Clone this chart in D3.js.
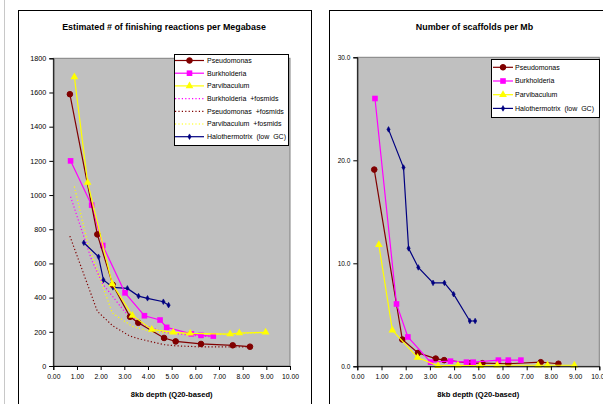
<!DOCTYPE html>
<html><head><meta charset="utf-8">
<script src="https://cdn.jsdelivr.net/npm/d3@7"></script>
<style>body{margin:0;background:#fff}svg{display:block;font-family:Arial,"Liberation Sans",sans-serif}</style>
</head><body><svg id="c" width="603" height="404"></svg>
<script>
// ---- data ----
const pseudoX = [0.70,1.86,2.51,3.24,3.59,4.68,5.17,6.24,7.58,8.31];
const pseudoReact = [1590,770,475,288,253,164,144,129,121,113];
const pseudoFosReact = [760,320,235,175,160,125,118,112,112,112];
const pseudoScaf = [19.1,2.6,1.3,0.75,0.6,0.3,0.3,0.25,0.4,0.25];

const burkX = [0.73,1.62,2.09,3.03,3.85,4.51,4.79,5.83,6.24,6.76];
const burkReact = [1200,941,705,428,294,269,226,188,179,175];
const burkFosReact = [990,620,480,315,240,205,195,180,175,170];
const burkScaf = [26.0,6.05,2.85,0.4,0.5,0.4,0.4,0.6,0.6,0.6];

const parvX = [0.89,1.45,2.49,3.34,4.16,5.07,5.78,7.47,7.86,8.97];
const parvReact = [1691,1074,480,296,214,197,191,187,193,197];
const parvFosReact = [1050,720,310,232,200,190,185,185,190,195];
const parvScaf = [11.8,3.5,0.85,0.05,0.1,0.05,0.1,0.1,0.1,0.1];

const haloX = [1.29,1.91,2.12,2.52,3.13,3.60,3.98,4.65,4.87];
const haloReact = [721,639,503,460,454,409,396,376,356];
const haloScaf = [23.0,19.3,11.45,9.6,8.1,8.1,7.0,4.4,4.4];

const xTicks = [0,1,2,3,4,5,6,7,8,9,10];
const leftYTicks = [0,200,400,600,800,1000,1200,1400,1600,1800];
const rightYTicks = [0,10,20,30];

const leftTitle = "Estimated # of finishing reactions per Megabase";
const rightTitle = "Number of scaffolds per Mb";
const xLabel = "8kb depth (Q20-based)";

const C = {pseudo:"#800000", burk:"#ff00ff", parv:"#ffff00", halo:"#000080"};

const svg = d3.select("#c");
svg.append("line").attr("x1",4.5).attr("x2",4.5).attr("y1",0).attr("y2",404).attr("stroke","#c8c8c8");

// panels
svg.append("rect").attr("x",18.5).attr("y",10.5).attr("width",293).attr("height",420).attr("fill","#fff").attr("stroke","#000");
svg.append("rect").attr("x",329.5).attr("y",10.5).attr("width",300).attr("height",420).attr("fill","#fff").attr("stroke","#000");

function marker(g, type, x, y, color){
  if(type==="circle") g.append("circle").attr("cx",x).attr("cy",y).attr("r",2.8).attr("fill",color).attr("stroke",color);
  else if(type==="square") g.append("rect").attr("x",x-2.8).attr("y",y-2.8).attr("width",5.6).attr("height",5.6).attr("fill",color);
  else if(type==="tri") g.append("path").attr("d",d3.symbol(d3.symbolTriangle,26)()).attr("transform",`translate(${x},${y})`).attr("fill",color);
  else if(type==="diamond") g.append("path").attr("d",d3.symbol(d3.symbolDiamond,9)()).attr("transform",`translate(${x},${y})`).attr("fill",color).attr("stroke",color).attr("stroke-width",0.6);
}

function chart(opt){
  const g = svg.append("g");
  const x = d3.scaleLinear().domain([0,10]).range([opt.x0,opt.x1]);
  const y = d3.scaleLinear().domain(opt.ydom).range([opt.y1,opt.y0]);
  g.append("rect").attr("x",opt.x0).attr("y",opt.y0).attr("width",opt.x1-opt.x0).attr("height",opt.y1-opt.y0)
    .attr("fill","#c0c0c0").attr("stroke","#808080");
  // title
  g.append("text").attr("x",opt.tx).attr("y",30).attr("text-anchor","middle").attr("font-size",8.9).attr("font-weight","bold").text(opt.title);
  // series
  const sg = g.append("g");
  opt.series.forEach(s=>{
    const pts = s.x.map((v,i)=>[x(v),y(s.v[i])]);
    sg.append("path").attr("d",d3.line()(pts)).attr("fill","none").attr("stroke",s.c)
      .attr("stroke-width",1.2).attr("stroke-dasharray",s.dash?"1.2,2.2":null);
    if(s.m) pts.forEach(p=>marker(sg,s.m,p[0],p[1],s.c));
  });
  // axes
  const ya = d3.axisLeft(y).tickValues(opt.yticks).tickSize(4).tickFormat(opt.yfmt);
  const yg = g.append("g").attr("transform",`translate(${opt.x0},0)`).call(ya);
  yg.select(".domain").attr("stroke","#000");
  yg.selectAll("text").attr("font-size",opt.yfs).attr("fill","#000").attr("font-family","Arial,Liberation Sans,sans-serif");
  const xa = d3.axisBottom(x).tickValues(xTicks).tickSize(4).tickFormat(d3.format(".2f"));
  const xg = g.append("g").attr("transform",`translate(0,${opt.y1})`).call(xa);
  xg.select(".domain").attr("stroke","#000");
  xg.selectAll("text").attr("font-size",6.8).attr("fill","#000").attr("dy","0.9em").attr("font-family","Arial,Liberation Sans,sans-serif");
  g.append("text").attr("x",(opt.x0+opt.x1)/2).attr("y",397).attr("text-anchor","middle").attr("font-size",7.6).attr("font-weight","bold").text(xLabel);
  // legend
  const L = opt.legend;
  const lg = g.append("g");
  lg.append("rect").attr("x",L.x+0.5).attr("y",L.y+0.5).attr("width",L.w).attr("height",L.h).attr("fill","#fff").attr("stroke","#000");
  L.items.forEach((s,i)=>{
    const yy = L.y+L.first+i*L.step;
    lg.append("line").attr("x1",L.x+L.l0).attr("x2",L.x+L.l1).attr("y1",yy).attr("y2",yy).attr("stroke",s.c).attr("stroke-width",1.2)
      .attr("stroke-dasharray",s.dash?"1.2,2.2":null);
    if(s.m) marker(lg,s.m,L.x+(L.l0+L.l1)/2,yy,s.c);
    lg.append("text").attr("x",L.x+L.tx).attr("y",yy).attr("dy","0.35em").attr("font-size",7).attr("xml:space","preserve").text(s.name);
  });
}

const leftSeries = [
  {name:"Pseudomonas", x:pseudoX, v:pseudoReact, c:C.pseudo, m:"circle"},
  {name:"Burkholderia", x:burkX, v:burkReact, c:C.burk, m:"square"},
  {name:"Parvibaculum", x:parvX, v:parvReact, c:C.parv, m:"tri"},
  {name:"Burkholderia  +fosmids", x:burkX, v:burkFosReact, c:C.burk, dash:true},
  {name:"Pseudomonas  +fosmids", x:pseudoX, v:pseudoFosReact, c:C.pseudo, dash:true},
  {name:"Parvibaculum  +fosmids", x:parvX, v:parvFosReact, c:C.parv, dash:true},
  {name:"Halothermotrix  (low  GC)", x:haloX, v:haloReact, c:C.halo, m:"diamond"}
];
const drawOrderLeft = [leftSeries[3],leftSeries[4],leftSeries[5],leftSeries[6],leftSeries[1],leftSeries[0],leftSeries[2]];

chart({x0:53.3,x1:290,y0:58.3,y1:366,ydom:[0,1800],yticks:leftYTicks,yfmt:d3.format("d"),yfs:7.2,
  title:leftTitle, tx:164, series:drawOrderLeft,
  legend:{x:174,y:54,w:114,h:91,first:6.5,step:12.7,l0:1,l1:30,tx:33,items:leftSeries}});

const rightSeries = [
  {name:"Pseudomonas", x:pseudoX, v:pseudoScaf, c:C.pseudo, m:"circle"},
  {name:"Burkholderia", x:burkX, v:burkScaf, c:C.burk, m:"square"},
  {name:"Parvibaculum", x:parvX, v:parvScaf, c:C.parv, m:"tri"},
  {name:"Halothermotrix  (low  GC)", x:haloX, v:haloScaf, c:C.halo, m:"diamond"}
];
const drawOrderRight = [rightSeries[3],rightSeries[0],rightSeries[1],rightSeries[2]];

chart({x0:357.3,x1:599.3,y0:57.3,y1:366.3,ydom:[0,30],yticks:rightYTicks,yfmt:d3.format(".1f"),yfs:6.5,
  title:rightTitle, tx:474.5, series:drawOrderRight,
  legend:{x:491,y:59,w:108,h:58,first:8.3,step:13.7,l0:2,l1:22,tx:24,items:rightSeries}});
</script></body></html>
